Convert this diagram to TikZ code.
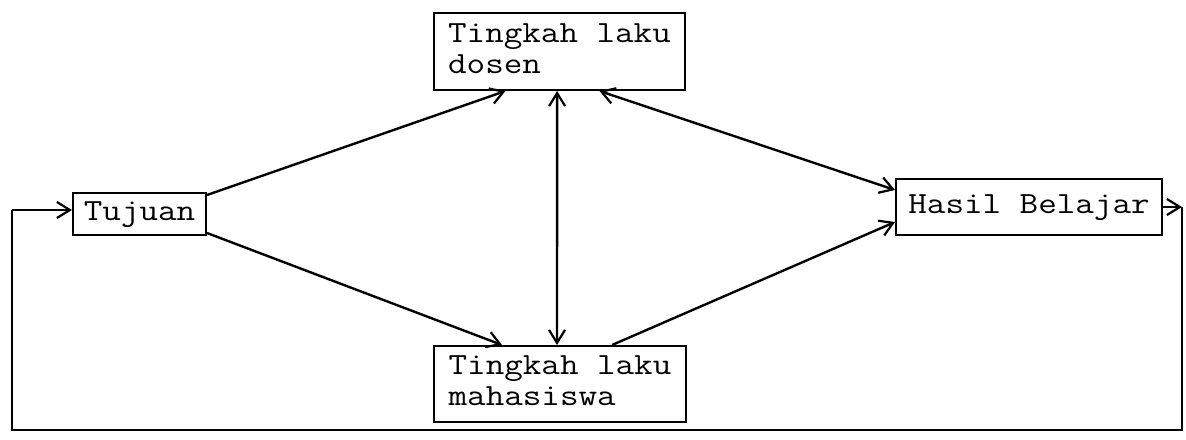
\documentclass[tikz,border=0pt]{standalone}
\usepackage{fontspec}
\usepackage{graphicx}
\usetikzlibrary{arrows.meta}
\newcommand{\twtext}[1]{\scalebox{1.17}[1]{\ttfamily\fontsize{15.4}{15.6}\selectfont\begin{tabular}{@{}l@{}}#1\end{tabular}}}
\tikzset{
  boxnode/.style={draw, line width=1pt, inner sep=0pt, font=\ttfamily},
  conn/.style={line width=1.2pt, -{Straight Barb[length=6.5pt,width=8pt,line width=1.1pt]}},
  dconn/.style={line width=1.2pt, {Straight Barb[length=6.5pt,width=8pt,line width=1.1pt]}-{Straight Barb[length=6.5pt,width=8pt,line width=1.1pt]}},
  plain/.style={line width=1.2pt}
}
\begin{document}
\begin{tikzpicture}[x=0.5pt,y=-0.5pt]
\useasboundingbox (0,0) rectangle (1186,439);
\node[boxnode, minimum width=125.5pt, minimum height=38.5pt] (dos) at (559.5,51.5) {\twtext{Tingkah laku\\dosen}};
\node[boxnode, minimum width=66.5pt, minimum height=21pt] (tuj) at (139.5,214) {\twtext{Tujuan}};
\node[boxnode, minimum width=126pt, minimum height=38pt] (mah) at (560,384) {\twtext{Tingkah laku\\mahasiswa}};
\node[boxnode, minimum width=133pt, minimum height=28pt] (has) at (1029,207) {\twtext{Hasil Belajar}};
% connectors
\draw[conn] ([yshift=-1.5pt]tuj.north east) -- ([xshift=-27pt]dos.south);
\draw[conn] ([yshift=1.5pt]tuj.south east) -- ([xshift=-29pt]mah.north);
\draw[dconn] ([xshift=-1.2pt]dos.south) -- ([xshift=-1.5pt]mah.north);
\draw[dconn] ([xshift=20pt]dos.south) -- ([yshift=8.5pt]has.west);
\draw[conn] ([xshift=26pt]mah.north) -- ([yshift=-7.5pt]has.west);
% feedback loop
\coordinate (rt) at (1182,207);
\coordinate (rb) at (1182,430);
\coordinate (lb) at (12,430);
\coordinate (lt) at (12,210);
\draw[conn] (has.east) -- (rt);
\draw[plain] (rt) -- (rb) -- (lb) -- (lt);
\draw[conn] (lt) -- (tuj.west |- lt);
\end{tikzpicture}
\end{document}
